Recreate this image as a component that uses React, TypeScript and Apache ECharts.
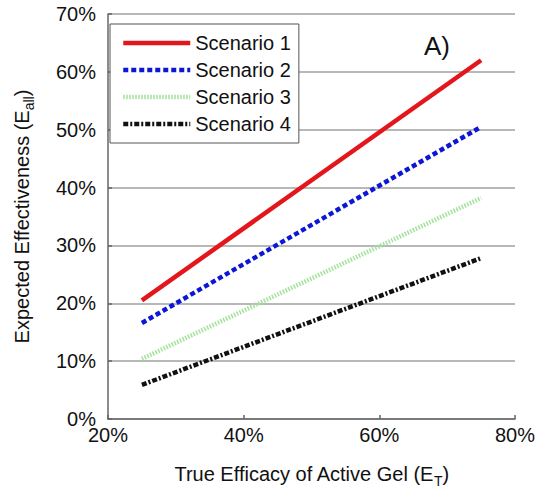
import React, { useEffect, useRef } from "react";
import * as echarts from "echarts";

const xValues = [25, 75];
const scenarioNames = ["Scenario 1", "Scenario 2", "Scenario 3", "Scenario 4"];
const scenario1 = [20.5, 62.0];
const scenario2 = [16.6, 50.5];
const scenario3 = [10.4, 38.2];
const scenario4 = [5.9, 27.8];
const xTicks = [20, 40, 60, 80];

const FONT = "'Liberation Sans', Arial, Helvetica, sans-serif";

export default function App() {
  const ref = useRef<HTMLDivElement>(null);
  useEffect(() => {
    if (!ref.current) return;
    const chart = echarts.init(ref.current, null, { renderer: "svg" });
    const mk = (vals: number[]) => xValues.map((x, i) => [x, vals[i]]);
    const styles = [
      { color: "#e3161c", type: "solid" as any, width: 4.5 },
      { color: "#0c16d6", type: [5, 3] as any, width: 4.5 },
      { color: "#a3e29a", type: [1.5, 1.5] as any, width: 4.5 },
      { color: "#111111", type: [5, 2, 2, 2] as any, width: 4.5 },
    ];
    const datas = [scenario1, scenario2, scenario3, scenario4];
    chart.setOption({
      animation: false,
      textStyle: { fontFamily: FONT },
      grid: { left: 101, right: 24, top: 14, bottom: 63 },
      legend: {
        orient: "vertical",
        left: 110,
        top: 24,
        data: scenarioNames.map((n, i) => ({
          name: n,
          itemStyle: { opacity: 0 },
          lineStyle: { color: styles[i].color, width: 4.5, type: styles[i].type, cap: "butt" },
        })),
        backgroundColor: "#ffffff",
        borderColor: "#555555",
        borderWidth: 1,
        borderRadius: 0,
        padding: [9, 8, 9, 11],
        itemGap: 7,
        itemWidth: 67,
        itemHeight: 14,
        itemStyle: { opacity: 0 },
        textStyle: { fontSize: 20, color: "#111", fontFamily: FONT },
      },
      xAxis: {
        type: "value",
        min: 20,
        max: 80,
        interval: 20,
        name: "True Efficacy of Active Gel (E{sub|T})",
        nameLocation: "middle",
        nameGap: 41,
        nameTextStyle: {
          fontSize: 20,
          color: "#111",
          fontFamily: FONT,
          lineHeight: 28,
          rich: { sub: { fontSize: 14, lineHeight: 14, verticalAlign: "bottom", fontFamily: FONT, color: "#111" } },
        },
        axisLine: { show: true, lineStyle: { color: "#666", width: 1.5 } },
        axisTick: { show: true, inside: true, length: 4, lineStyle: { color: "#666", width: 1.5 } },
        axisLabel: { formatter: "{value}%", fontSize: 20, color: "#111", margin: 6, customValues: xTicks },
        splitLine: { show: false },
      },
      yAxis: {
        type: "value",
        min: 0,
        max: 70,
        interval: 10,
        name: "Expected Effectiveness (E{sub|all})",
        nameLocation: "middle",
        nameGap: 72,
        nameTextStyle: {
          fontSize: 20,
          color: "#111",
          fontFamily: FONT,
          lineHeight: 28,
          rich: { sub: { fontSize: 14, lineHeight: 14, verticalAlign: "bottom", fontFamily: FONT, color: "#111" } },
        },
        axisLine: { show: true, lineStyle: { color: "#666", width: 1.5 } },
        axisTick: { show: true, inside: true, length: 4, lineStyle: { color: "#666", width: 1.5 } },
        axisLabel: { formatter: "{value}%", fontSize: 20, color: "#111", margin: 12 },
        splitLine: { show: true, lineStyle: { color: "#a0a0a0", width: 1.5 } },
      },
      graphic: [
        {
          type: "text",
          left: 424,
          top: 33,
          style: { text: "A)", fontSize: 26, fill: "#111", fontFamily: FONT },
          z: 100,
        },
      ],
      series: datas.map((d, i) => ({
        name: scenarioNames[i],
        type: "line",
        data: mk(d),
        symbol: "none",
        showSymbol: false,
        lineStyle: { ...styles[i], cap: "butt" },
        itemStyle: { color: styles[i].color },
        z: 10 - i,
      })),
    });
    return () => chart.dispose();
  }, []);
  return <div ref={ref} style={{ width: 539, height: 493, position: "absolute", left: 0, top: 0 }} />;
}
